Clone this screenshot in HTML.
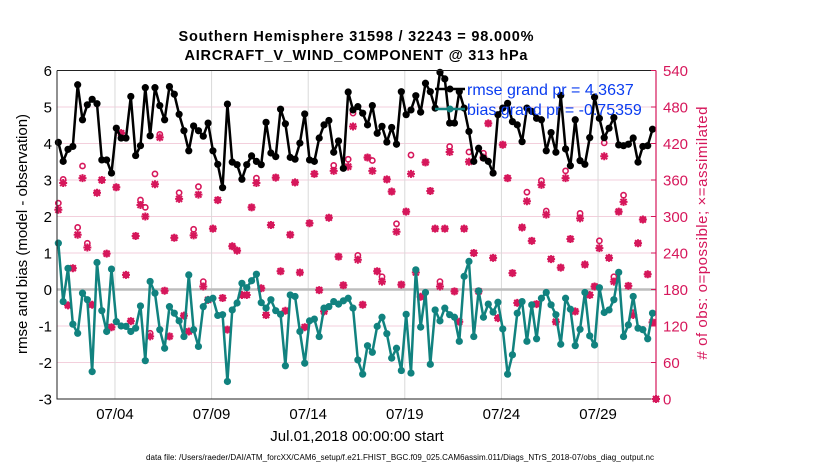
<!DOCTYPE html>
<html><head><meta charset="utf-8"><style>
body{margin:0;background:#fff;}
svg{display:block;font-family:"Liberation Sans",sans-serif;}
</style></head><body>
<svg id="chart" width="830" height="470" viewBox="0 0 830 470" xmlns="http://www.w3.org/2000/svg">
<text x="356" y="41" text-anchor="middle" font-size="14.5" font-weight="bold" textLength="355">Southern Hemisphere 31598 / 32243 = 98.000%</text>
<text x="356" y="60" text-anchor="middle" font-size="14.5" font-weight="bold" textLength="343">AIRCRAFT_V_WIND_COMPONENT @ 313 hPa</text>
<g id="grid"></g>
<g id="marks"></g>
<g id="axes"></g>
<text transform="translate(27,234) rotate(-90)" text-anchor="middle" font-size="15">rmse and bias (model - observation)</text>
<text transform="translate(707,233) rotate(-90)" text-anchor="middle" font-size="15" fill="#d6175b" textLength="253"># of obs: o=possible; ×=assimilated</text>
<text x="357" y="441" text-anchor="middle" font-size="15">Jul.01,2018 00:00:00 start</text>
<text x="400" y="460" text-anchor="middle" font-size="8" textLength="508">data file: /Users/raeder/DAI/ATM_forcXX/CAM6_setup/f.e21.FHIST_BGC.f09_025.CAM6assim.011/Diags_NTrS_2018-07/obs_diag_output.nc</text>
<g>
<line x1="435" y1="89" x2="465" y2="89" stroke="#000" stroke-width="2.5"/>
<circle cx="450" cy="89" r="3.5" fill="#000"/>
<text x="467" y="95" font-size="16" fill="#0a3cf0">rmse grand pr = 4.3637</text>
<line x1="435" y1="109" x2="465" y2="109" stroke="#11827f" stroke-width="2.5"/>
<circle cx="450" cy="109" r="3.5" fill="#11827f"/>
<text x="467" y="115" font-size="16" fill="#0a3cf0">bias grand pr = -0.75359</text>
</g>
</svg>
<script>
const rmse=[4.03,3.51,3.84,3.92,5.61,4.65,5.06,5.21,5.09,3.55,3.55,3.19,4.42,4.15,4.15,5.29,3.67,3.94,5.53,4.21,5.53,5.04,4.65,5.56,5.35,4.80,4.35,3.80,4.48,4.35,4.20,4.56,
3.80,3.43,2.79,5.08,3.49,3.42,3.02,3.42,3.66,3.51,3.42,4.58,3.74,3.64,4.94,4.54,3.62,3.57,4.01,4.81,3.55,3.51,4.15,4.51,4.63,3.76,4.07,3.32,5.41,4.92,
5.01,4.83,4.51,5.04,4.28,4.47,4.04,4.44,3.98,5.42,4.79,4.92,5.31,4.86,5.65,5.42,4.97,5.95,5.77,4.56,4.56,5.42,4.97,4.33,3.51,3.87,3.60,3.51,3.19,4.79,
4.97,5.10,4.60,4.51,4.05,4.97,4.88,4.69,4.65,3.80,4.30,3.76,5.32,3.85,3.39,4.65,3.53,3.43,4.16,5.27,4.69,4.16,4.42,4.71,3.96,3.94,3.98,4.15,3.49,3.92,3.94,4.39];
const bias=[1.27,-0.33,0.58,-0.95,-1.20,-0.10,-0.28,-2.25,0.74,-0.58,-1.15,0.56,-0.88,-1.00,-1.01,-1.15,-1.06,-0.45,-1.95,0.22,-0.10,-1.10,-1.61,-0.47,-0.65,-0.86,-1.29,0.40,-1.10,-1.56,-0.47,-0.28,
-0.24,-0.71,-0.69,-2.52,-0.56,-0.37,0.17,0.05,0.24,0.42,-0.36,-0.51,-0.28,-0.58,-0.68,-2.09,-0.15,-0.19,-1.15,-2.02,-0.86,-0.81,-1.29,-0.51,-0.47,-0.33,-0.40,-0.31,-0.24,-0.51,
-1.93,-2.32,-1.54,-1.72,-1.01,-0.76,-1.21,-1.88,-1.61,-2.22,-0.68,-2.29,0.54,-1.03,-0.08,-2.05,-0.56,-0.86,-0.51,-0.69,-0.76,-1.42,0.36,0.77,-1.29,-0.04,-0.76,-0.40,-0.62,-0.35,-1.08,
-2.32,-1.79,-0.65,-0.33,-1.42,-0.42,-1.35,-0.24,-0.08,-0.42,-0.69,-1.50,-0.24,-0.54,-1.54,-1.09,-0.08,-1.27,-1.52,0.05,-0.63,-0.56,-0.28,0.47,-1.29,-0.97,-0.19,-1.06,-1.10,-1.35,-0.65];
const assimilated=[311,355,154,215,270,363,249,155,339,360,239,118,348,437,204,128,268,319,300,103,353,430,178,103,265,329,137,111,269,336,185,163,
280,327,166,114,251,244,171,171,315,355,182,138,286,364,210,145,270,356,208,118,289,370,179,144,298,375,234,187,382,448,229,155,
397,375,210,193,361,341,275,188,308,370,208,168,389,342,280,185,280,406,177,127,280,390,240,177,397,453,232,133,418,363,207,158,
282,325,260,156,352,303,230,127,216,363,263,144,297,221,171,185,248,399,232,193,308,324,186,138,256,295,205,126,0];
const possible=[322,361,154,215,282,383,256,155,339,360,239,118,348,437,204,128,268,327,315,108,370,435,178,103,265,339,137,111,279,349,193,163,
280,327,166,114,251,244,171,171,315,363,182,138,286,364,210,145,270,356,208,118,289,370,179,144,298,384,234,187,394,470,236,155,
397,392,210,201,361,341,288,188,308,401,212,168,389,342,280,193,280,415,177,127,280,406,240,177,404,453,232,133,418,363,207,158,
282,340,260,156,359,309,230,127,216,375,263,144,305,221,171,185,260,421,232,201,308,335,186,142,256,295,205,126,0];
const leftTicks=[-3,-2,-1,0,1,2,3,4,5,6];
const rightTicks=[0,60,120,180,240,300,360,420,480,540];
const dateTicks=[3,8,13,18,23,28];
const dateLabels=["07/04","07/09","07/14","07/19","07/24","07/29"];

const X0=57,X1=656,Y0=70.5,Y1=399;
const xs=d=>X0+(d/31)*(X1-X0);
const yL=v=>Y1-(v+3)/9*(Y1-Y0);
const yR=v=>Y1-v/540*(Y1-Y0);
const tOf=i=>0.07+i*0.25;
const NS="http://www.w3.org/2000/svg";
function mk(tag,attrs,parent){const e=document.createElementNS(NS,tag);for(const k in attrs)e.setAttribute(k,attrs[k]);parent.appendChild(e);return e;}
const grid=document.getElementById('grid'),marks=document.getElementById('marks'),axes=document.getElementById('axes');

leftTicks.forEach(v=>{
  if(v===-3||v===6)return;
  const g=mk('line',{x1:X0,x2:X1,y1:yL(v),y2:yL(v),stroke:'#f3cfdc','stroke-width':1},grid);
  
  
});
dateTicks.forEach(d=>{
  const g=mk('line',{x1:xs(d),x2:xs(d),y1:Y0,y2:Y1,stroke:'#d9d9d9','stroke-width':1},grid);
  
  
});
const zl=mk('line',{x1:X0,x2:X1,y1:yL(0),y2:yL(0),stroke:'#bdbdbd','stroke-width':2.5},grid);



assimilated.forEach((v,i)=>{
  const cx=xs(i===124?31:tOf(i)),p=possible[i];
  const c=mk('circle',{cx:cx,cy:yR(p),r:2.6,fill:'none',stroke:'#d6175b','stroke-width':1.6},marks);
  
  
  const cy=yR(v);
  const s=mk('path',{d:`M${cx-4},${cy}H${cx+4}M${cx},${cy-4}V${cy+4}M${cx-3},${cy-3}L${cx+3},${cy+3}M${cx-3},${cy+3}L${cx+3},${cy-3}`,stroke:'#d6175b','stroke-width':2},marks);
  
  
});
function series(arr,color,name){
  const pl=mk('polyline',{points:arr.map((v,i)=>xs(tOf(i))+','+yL(v)).join(' '),fill:'none',stroke:color,'stroke-width':2.5,'stroke-linejoin':'round'},marks);
  
  
  arr.forEach((v,i)=>{
    const c=mk('circle',{cx:xs(tOf(i)),cy:yL(v),r:3.6,fill:color},marks);
    
    
  });
}
series(rmse,'#000','rmse');
series(bias,'#11827f','bias');

const fr=mk('path',{d:`M${X0},${Y0}H${X1}M${X0},${Y0}V${Y1}H${X1}`,stroke:'#222','stroke-width':1,fill:'none'},axes);


const ra=mk('line',{x1:X1,x2:X1,y1:Y0,y2:Y1,stroke:'#d6175b','stroke-width':1.2},axes);


leftTicks.forEach(v=>{
  const t=mk('text',{x:X0-5,y:yL(v)+5.5,'text-anchor':'end','font-size':15},axes);
  t.textContent=v;
  
  
});
rightTicks.forEach(v=>{
  const t=mk('text',{x:X1+7,y:yR(v)+5.5,'font-size':15,fill:'#d6175b'},axes);
  t.textContent=v;
  
  
  const tk=mk('line',{x1:X1-5,x2:X1,y1:yR(v),y2:yR(v),stroke:'#d6175b'},axes);
  
  
});
dateTicks.forEach((d,i)=>{
  const t=mk('text',{x:xs(d),y:419,'text-anchor':'middle','font-size':15},axes);
  t.textContent=dateLabels[i];
  
  
});
</script>
</body></html>
